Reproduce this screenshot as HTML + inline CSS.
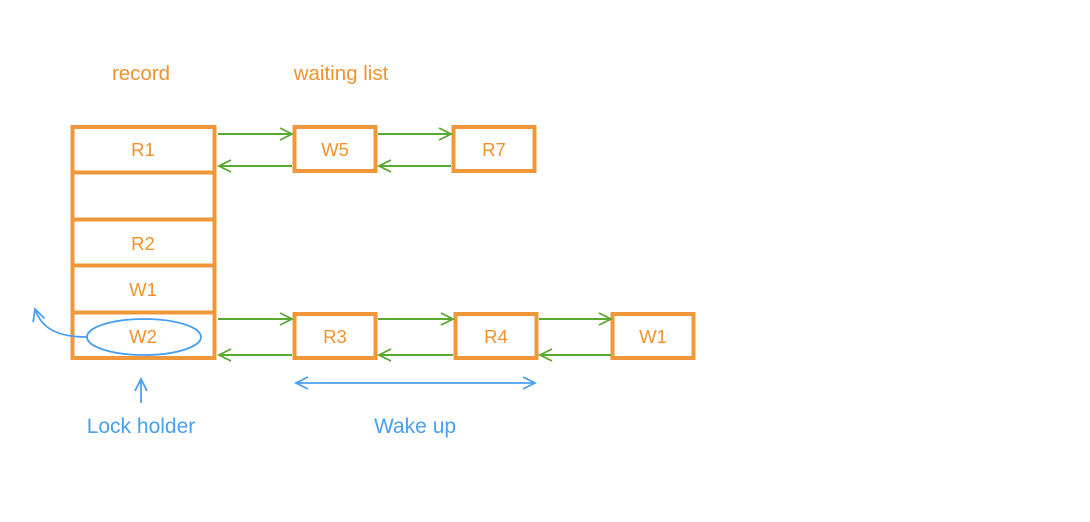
<!DOCTYPE html>
<html><head><meta charset="utf-8"><style>
html,body{margin:0;padding:0;background:#fff;width:1090px;height:522px;overflow:hidden}
text{font-family:"Liberation Sans",sans-serif}
</style></head><body>
<svg width="1090" height="522" viewBox="0 0 1090 522">
<defs>
<marker id="ga" markerWidth="16" markerHeight="14" refX="13" refY="7" orient="auto" markerUnits="userSpaceOnUse"><path d="M1,1 L13,7 L1,13" fill="none" stroke="#5aa832" stroke-width="1.8"/></marker>
<marker id="ba" markerWidth="16" markerHeight="14" refX="13" refY="7" orient="auto-start-reverse" markerUnits="userSpaceOnUse"><path d="M1,1 L13,7 L1,13" fill="none" stroke="#4a9ff0" stroke-width="1.8"/></marker>
</defs>
<g fill="#f2922f" font-size="20.5" text-anchor="middle">
<text x="141" y="80">record</text>
<text x="341" y="80">waiting list</text>
</g>
<g fill="none" stroke="#f0973a" stroke-width="4">
<rect x="72.5" y="127" width="142" height="231"/>
<line x1="72" y1="172.5" x2="215" y2="172.5"/>
<line x1="72" y1="219.5" x2="215" y2="219.5"/>
<line x1="72" y1="265.5" x2="215" y2="265.5"/>
<line x1="72" y1="312.5" x2="215" y2="312.5"/>
<rect x="294.5" y="127" width="81" height="44"/>
<rect x="453.5" y="127" width="81" height="44"/>
<rect x="294.5" y="314" width="81" height="44"/>
<rect x="455.5" y="314" width="81" height="44"/>
<rect x="612.5" y="314" width="81" height="44"/>
</g>
<g fill="#f2922f" font-size="18.5" text-anchor="middle">
<text x="143" y="156">R1</text>
<text x="143" y="250">R2</text>
<text x="143" y="296">W1</text>
<text x="143" y="343">W2</text>
<text x="335" y="156">W5</text>
<text x="494" y="156">R7</text>
<text x="335" y="343">R3</text>
<text x="496" y="343">R4</text>
<text x="653" y="343">W1</text>
</g>
<g stroke="#5aa832" stroke-width="2" fill="none">
<line x1="218" y1="134" x2="292" y2="134" marker-end="url(#ga)"/>
<line x1="292" y1="166" x2="219" y2="166" marker-end="url(#ga)"/>
<line x1="378" y1="134" x2="451" y2="134" marker-end="url(#ga)"/>
<line x1="451" y1="166" x2="379" y2="166" marker-end="url(#ga)"/>
<line x1="218" y1="319" x2="292" y2="319" marker-end="url(#ga)"/>
<line x1="292" y1="355" x2="219" y2="355" marker-end="url(#ga)"/>
<line x1="378" y1="319" x2="453" y2="319" marker-end="url(#ga)"/>
<line x1="453" y1="355" x2="379" y2="355" marker-end="url(#ga)"/>
<line x1="539" y1="319" x2="611" y2="319" marker-end="url(#ga)"/>
<line x1="611" y1="355" x2="540" y2="355" marker-end="url(#ga)"/>
</g>
<g stroke="#4a9ff0" stroke-width="1.8" fill="none">
<ellipse cx="144" cy="337" rx="57" ry="18"/>
<path d="M87,337 C60,337 42,330 35,309" marker-end="url(#ba)"/>
<line x1="141" y1="403" x2="141" y2="379" marker-end="url(#ba)"/>
<line x1="296" y1="383" x2="535" y2="383" marker-start="url(#ba)" marker-end="url(#ba)"/>
</g>
<g fill="#4a9ff0" font-size="21" text-anchor="middle">
<text x="141" y="433">Lock holder</text>
<text x="415" y="433">Wake up</text>
</g>
</svg>
</body></html>
